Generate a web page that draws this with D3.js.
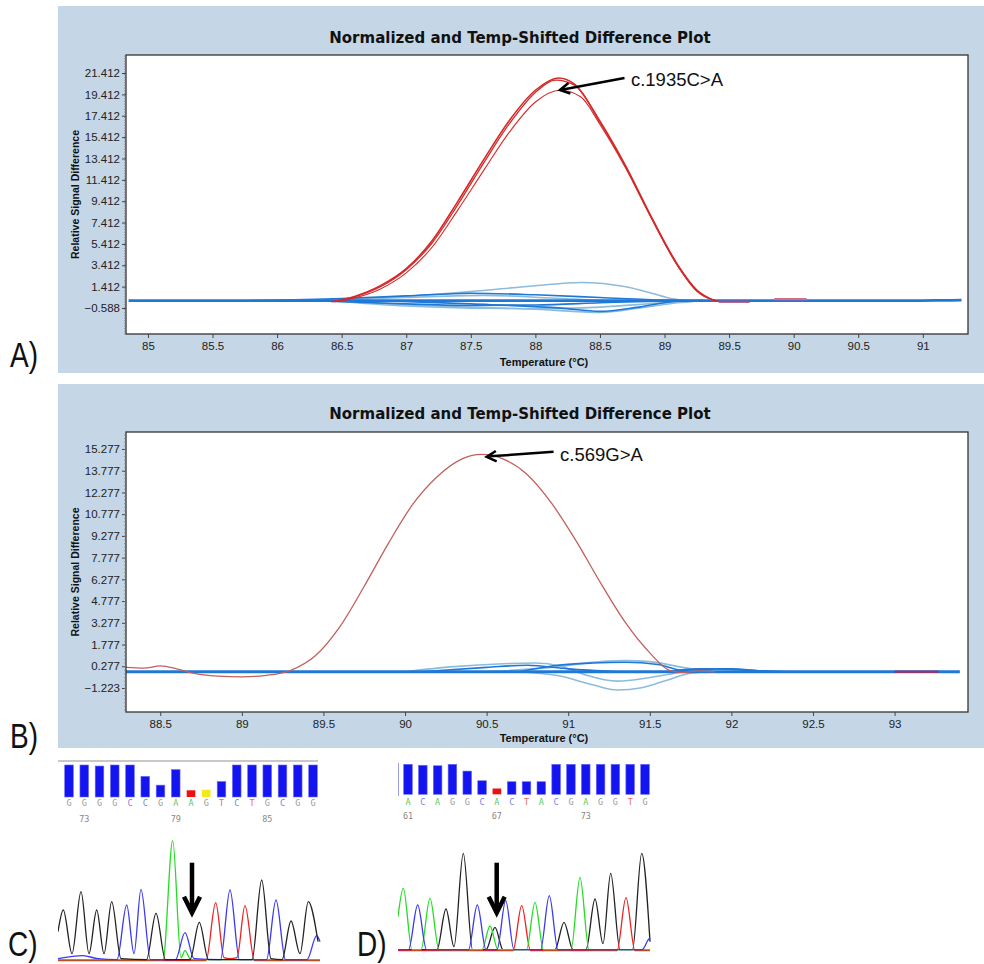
<!DOCTYPE html>
<html><head><meta charset="utf-8">
<script src="https://cdn.jsdelivr.net/npm/d3@7/dist/d3.min.js"></script>
<style>body{margin:0;background:#fff} svg{display:block}</style>
</head><body><svg id="c" width="984" height="964"></svg>
<script>
// ---------------- DATA ----------------
const titleText = "Normalized and Temp-Shifted Difference Plot";
const yLabelText = "Relative Signal Difference";
const xLabelText = "Temperature (°C)";

// Panel A ticks
const meltA_xTicks = [85, 85.5, 86, 86.5, 87, 87.5, 88, 88.5, 89, 89.5, 90, 90.5, 91];
const meltA_yTicks = [-0.588, 1.412, 3.412, 5.412, 7.412, 9.412, 11.412, 13.412, 15.412, 17.412, 19.412, 21.412];
// Panel B ticks
const meltB_xTicks = [88.5, 89, 89.5, 90, 90.5, 91, 91.5, 92, 92.5, 93];
const meltB_yTicks = [-1.223, 0.277, 1.777, 3.277, 4.777, 6.277, 7.777, 9.277, 10.777, 12.277, 13.777, 15.277];

// Panel A curves [temperature, difference]
const redA1 = [[86.42,0],[86.6,0.5],[86.8,1.5],[87.0,3.1],[87.2,5.7],[87.4,9.4],[87.6,13.3],[87.8,17.0],[88.0,19.8],[88.18,20.95],[88.3,20.4],[88.5,16.9],[88.7,12.7],[88.9,7.9],[89.1,3.5],[89.25,1.1],[89.4,0.05]];
const redA2 = [[86.44,0],[86.6,0.45],[86.8,1.4],[87.0,3.0],[87.2,5.5],[87.4,9.1],[87.6,13.0],[87.8,16.7],[88.0,19.6],[88.16,20.75],[88.3,20.3],[88.5,16.8],[88.7,12.6],[88.9,7.8],[89.1,3.4],[89.25,1.0],[89.4,0.05]];
const redA3 = [[86.47,0],[86.6,0.35],[86.8,1.2],[87.0,2.7],[87.2,5.1],[87.4,8.6],[87.6,12.3],[87.8,15.9],[88.0,18.7],[88.19,19.8],[88.35,19.2],[88.5,16.6],[88.7,12.5],[88.9,7.8],[89.1,3.4],[89.25,1.0],[89.42,0.05]];
const redA_tail1 = [[89.42,0.0],[89.66,0.0]];
const redA_tail2 = [[89.85,0.25],[90.1,0.25]];
const blueA_flat = [[84.85,0.1],[85.5,0.1],[86.0,0.1],[86.5,0.1],[87.0,0.1],[88.0,0.1],[89.0,0.1],[90.0,0.1],[90.8,0.1],[91.1,0.12],[91.3,0.15]];
const blueA_light1 = [[86.0,0.1],[86.5,0.2],[87.0,0.5],[87.5,0.95],[88.0,1.5],[88.35,1.8],[88.7,1.4],[88.9,0.8],[89.05,0.3],[89.2,0.1]];
const blueA_dark1 = [[85.8,0.1],[86.5,0.3],[87.0,0.55],[87.5,0.8],[88.0,0.65],[88.5,0.4],[89.0,0.15],[89.3,0.1]];
const blueA_light2 = [[86.2,0.1],[87.0,0.4],[87.6,0.6],[88.2,0.3],[88.8,0.0],[89.3,0.1]];
const blueA_dark2 = [[86.3,0.1],[87.0,-0.2],[87.5,-0.35],[88.0,-0.3],[88.5,-0.1],[89.0,0.1]];
const blueA_light3 = [[86.4,0.1],[87.0,-0.4],[87.5,-0.6],[88.0,-0.65],[88.5,-0.5],[89.0,-0.1],[89.3,0.1]];
const blueA_light4 = [[86.5,0.1],[87.0,-0.3],[87.5,-0.5],[88.0,-0.7],[88.5,-1.0],[88.8,-0.6],[89.1,-0.1],[89.3,0.1]];
const blueA_dark3 = [[86.8,0.1],[87.5,-0.2],[88.2,-0.6],[88.5,-0.9],[88.8,-0.5],[89.1,0.05],[89.3,0.1]];

// Panel B curves
const redB1 = [[88.29,0.2],[88.4,0.15],[88.5,0.3],[88.6,0.1],[88.7,-0.2],[88.85,-0.4],[89.0,-0.45],[89.15,-0.35],[89.3,0],[89.45,1.0],[89.6,3.0],[89.75,5.8],[89.9,8.8],[90.05,11.5],[90.2,13.4],[90.35,14.6],[90.47,14.9],[90.6,14.6],[90.75,13.5],[90.9,11.5],[91.05,8.9],[91.2,6.0],[91.35,3.3],[91.5,1.2],[91.62,0],[91.7,-0.15],[91.8,-0.05],[91.9,-0.1]];
const redB_tail = [[93.0,-0.1],[93.27,-0.1]];
const blueB_flat = [[88.29,-0.1],[89.0,-0.1],[90.0,-0.1],[91.0,-0.1],[92.0,-0.1],[93.0,-0.1],[93.4,-0.1]];
const blueB_light1 = [[90.0,-0.1],[90.3,0.25],[90.6,0.45],[90.8,0.5],[90.95,0.3],[91.1,-0.3],[91.3,-0.75],[91.5,-0.5],[91.7,-0.1]];
const blueB_light2 = [[90.5,-0.1],[90.9,0.2],[91.2,0.6],[91.35,0.67],[91.5,0.6],[91.7,0.2],[91.9,-0.1]];
const blueB_dark1 = [[90.7,-0.1],[90.9,0.3],[91.15,0.5],[91.35,0.55],[91.55,0.4],[91.7,0.0],[91.9,0.1],[92.1,0.0],[92.3,-0.1]];
const blueB_light3 = [[90.7,-0.1],[90.95,-0.4],[91.15,-1.0],[91.3,-1.36],[91.45,-1.2],[91.6,-0.7],[91.75,-0.2],[91.9,-0.1]];
const blueB_dark2 = [[90.1,-0.1],[90.5,0.2],[90.75,0.35],[91.0,0.1],[91.3,-0.1]];
const blueB_dark3 = [[91.6,-0.1],[91.8,0.1],[92.0,0.1],[92.2,-0.05],[92.4,-0.1]];

// Annotations
const annA = {label: "c.1935C>A", tx: 88.74, tv: 20.76, sx: 88.69, sv: 20.95, ex: 88.19, ev: 19.82};
const annB = {label: "c.569G>A", tx: 90.95, tv: 14.87, sx: 90.91, sv: 15.08, ex: 90.50, ev: 14.73};

// Sequencing panels: base calls, quality values, position labels
const basesC = ["G","G","G","G","C","C","G","A","A","G","T","C","T","G","C","G","G"];
const qualC = [62,62,60,62,62,40,23,53,13,14,30,62,62,62,62,62,62];
const qualColorC = ["b","b","b","b","b","b","b","b","r","y","b","b","b","b","b","b","b"];
const numLabelsC = [[1,"73"],[7,"79"],[13,"85"]];
const basesD = ["A","C","A","G","G","C","A","C","T","A","C","G","A","G","G","T","G"];
const qualD = [62,60,59,62,48,28,12,26,26,26,62,62,62,62,62,62,62];
const qualColorD = ["b","b","b","b","b","b","r","b","b","b","b","b","b","b","b","b","b"];
const numLabelsD = [[0,"61"],[6,"67"],[12,"73"]];

// Chromatogram traces [scan position, signal]
const chromC_black = [[0,30],[5.3,51.7],[14,8],[23,70],[31,8],[38.7,51.7],[46,8],[53.7,60],[63,3],[88.5,2],[98,48.4],[107.5,2],[132,2],[141.3,39.4],[150.5,2],[194,2],[203.7,81.7],[213,3],[224,2],[233,40.7],[242,8],[250.3,60],[260,20]];
const chromC_blue = [[0,3],[25,6],[40,3],[59,2],[68.7,56.7],[76,8],[83,72.4],[92.5,2],[117.5,2],[127,29],[136,3],[162.5,2],[172,71.7],[181.5,2],[208.5,2],[218,61.7],[227.5,2],[249,2],[258.7,26],[262,20]];
const chromC_green = [[0,2],[105,2],[114.7,121],[123,4],[127,11],[133,2],[262,2]];
const chromC_red = [[0,1],[148,1],[157.7,59],[166,4],[172,3],[179,4],[187,56],[196.5,1],[262,1]];
const arrowC = {pos: 134, from: 99, to: 49};

const chromD_black = [[0,2],[39,2],[48,42.7],[56,5],[65.3,98.4],[74.5,2],[88,2],[97,24.4],[105,2],[157,2],[166,29.4],[175,2],[188,2],[197,52.7],[205,8],[212.7,78.4],[222,2],[234.5,2],[243.7,98.4],[252,10]];
const chromD_blue = [[0,2],[10.5,2],[19.7,46.7],[28.5,2],[70.5,2],[79.3,46.7],[88,2],[99,2],[107.7,51],[116,2],[142.5,2],[151.3,56],[160,2],[244,2],[250.3,12],[252,14]];
const chromD_green = [[0,35],[5.3,63.4],[14,2],[23,2],[32,53.4],[41,2],[84,2],[92,25.7],[100,2],[128.5,2],[137,49.4],[145.5,2],[173,2],[182,74.4],[191,2],[252,2]];
const chromD_red = [[0,1],[115,1],[123.7,46],[132.5,1],[219,1],[228,54],[237,1],[252,1]];
const arrowD = {pos: 98.7, from: 89, to: 39};

// ---------------- STYLE ----------------
const BG = "#c5d7e7";
const RED_A = "#d42a2a", RED_B = "#c2605c", TAIL = "#b04a7e";
const DBLUE = "#1f78d6", LBLUE = "#8bbcdd";
const baseColor = {G:"#9a9a9a", C:"#8080e8", A:"#5ccc5c", T:"#ee6a6a"};
const qColor = {b:"#1414f0", r:"#ee1111", y:"#f4e81c"};
const traceCol = {black:"#222", blue:"#3a3af0", green:"#22dd22", red:"#ee2020"};
const tickFont = "'Liberation Sans', Arial, sans-serif";

const svg = d3.select("#c");
svg.append("rect").attr("width",984).attr("height",964).attr("fill","#fff");

function panelLetter(x, y, t) {
  svg.append("text").attr("transform",`translate(${x},${y}) scale(0.8,1)`)
    .attr("font-family","'Liberation Sans', Arial, sans-serif").attr("font-size",35).attr("fill","#111").text(t);
}

function drawMelt(o) {
  const g = svg.append("g");
  g.append("rect").attr("x",58).attr("y",o.bgTop).attr("width",926).attr("height",o.bgH).attr("fill",BG);
  const x = d3.scaleLinear().domain(o.xDomain).range([126, 968]);
  const y = d3.scaleLinear().domain(o.yDomain).range([o.bottom, o.top]);
  g.append("rect").attr("x",126).attr("y",o.top).attr("width",842).attr("height",o.bottom-o.top).attr("fill","#fff");
  const cid = "clip"+o.id;
  g.append("clipPath").attr("id",cid).append("rect").attr("x",126).attr("y",o.top).attr("width",842).attr("height",o.bottom-o.top);
  const pg = g.append("g").attr("clip-path",`url(#${cid})`);
  const line = d3.line().x(d=>x(d[0])).y(d=>y(d[1])).curve(d3.curveMonotoneX);
  o.series.forEach(s => {
    pg.append("path").attr("d", line(s.data)).attr("fill","none")
      .attr("stroke", s.color).attr("stroke-width", s.w).attr("stroke-linejoin","round");
  });
  g.append("rect").attr("x",126).attr("y",o.top).attr("width",842).attr("height",o.bottom-o.top)
    .attr("fill","none").attr("stroke","#333").attr("stroke-width",1.3);
  g.append("text").attr("x",520).attr("y",o.titleY).attr("text-anchor","middle")
    .attr("font-family","'DejaVu Sans', Verdana, sans-serif").attr("font-weight","bold").attr("font-size",15)
    .attr("fill","#111").text(titleText);
  const ya = g.append("g").attr("transform","translate(126,0)")
    .call(d3.axisLeft(y).tickValues(o.yTicks).tickSize(4).tickPadding(2).tickFormat(d3.format(".3f")));
  ya.select(".domain").remove();
  ya.selectAll("text").attr("font-family",tickFont).attr("font-size",11.5).attr("fill","#222");
  ya.selectAll("line").attr("stroke","#444");
  const minor = d3.range(Math.ceil(o.yDomain[0]/o.minorStep)*o.minorStep, o.yDomain[1], o.minorStep);
  g.append("g").selectAll("line").data(minor).join("line")
    .attr("x1",124).attr("x2",126).attr("y1",d=>y(d)).attr("y2",d=>y(d)).attr("stroke","#777").attr("stroke-width",0.7);
  const xa = g.append("g").attr("transform",`translate(0,${o.bottom})`)
    .call(d3.axisBottom(x).tickValues(o.xTicks).tickSize(4).tickPadding(4).tickFormat(d=>String(d)));
  xa.select(".domain").remove();
  xa.selectAll("text").attr("font-family",tickFont).attr("font-size",11.5).attr("fill","#222");
  xa.selectAll("line").attr("stroke","#444");
  g.append("text").attr("transform",`translate(79,${(o.top+o.bottom)/2}) rotate(-90)`).attr("text-anchor","middle")
    .attr("font-family",tickFont).attr("font-weight","bold").attr("font-size",10.5).attr("fill","#111").text(yLabelText);
  g.append("text").attr("x",544).attr("y",o.xLabelY).attr("text-anchor","middle")
    .attr("font-family",tickFont).attr("font-weight","bold").attr("font-size",11).attr("fill","#111").text(xLabelText);
  const a = o.ann;
  const sx = x(a.sx), sy = y(a.sv), ex = x(a.ex), ey = y(a.ev);
  g.append("line").attr("x1",sx).attr("y1",sy).attr("x2",ex+3).attr("y2",ey-0.6).attr("stroke","#000").attr("stroke-width",2.5);
  const ang = Math.atan2(sy-ey, sx-ex), hl = 11, hw = 0.5;
  const p1 = [ex + hl*Math.cos(ang-hw), ey + hl*Math.sin(ang-hw)];
  const p2 = [ex + hl*Math.cos(ang+hw), ey + hl*Math.sin(ang+hw)];
  g.append("path").attr("d",`M${p1}L${ex},${ey}L${p2}`).attr("fill","none").attr("stroke","#000").attr("stroke-width",2.5);
  g.append("text").attr("x",x(a.tx)).attr("y",y(a.tv)+6.5).attr("font-family",tickFont).attr("font-size",18.5)
    .attr("fill","#111").text(a.label);
  panelLetter(10, o.letterY, o.letter);
}

drawMelt({id:"A", bgTop:6, bgH:367, top:55, bottom:334, titleY:43, xLabelY:366, letterY:367, letter:"A)",
  xDomain:[84.83, 91.35], yDomain:[-3.02, 23.1], xTicks:meltA_xTicks, yTicks:meltA_yTicks, minorStep:0.25, ann:annA,
  series:[
    {data:blueA_light1,color:LBLUE,w:1.6},{data:blueA_light2,color:LBLUE,w:1.6},{data:blueA_light3,color:LBLUE,w:1.6},{data:blueA_light4,color:LBLUE,w:1.6},
    {data:blueA_dark1,color:DBLUE,w:1.6},{data:blueA_dark2,color:DBLUE,w:1.6},{data:blueA_dark3,color:DBLUE,w:1.6},
    {data:blueA_flat,color:DBLUE,w:2.8},
    {data:redA3,color:RED_A,w:1.1},{data:redA2,color:RED_A,w:1.3},{data:redA1,color:RED_A,w:1.6},
    {data:redA_tail1,color:TAIL,w:2.2},{data:redA_tail2,color:"#d86a8a",w:2.2}
  ]});

drawMelt({id:"B", bgTop:384, bgH:364, top:432, bottom:712, titleY:419, xLabelY:742, letterY:748, letter:"B)",
  xDomain:[88.29, 93.45], yDomain:[-2.88, 16.45], xTicks:meltB_xTicks, yTicks:meltB_yTicks, minorStep:0.25, ann:annB,
  series:[
    {data:blueB_light1,color:LBLUE,w:1.6},{data:blueB_light2,color:LBLUE,w:1.6},{data:blueB_light3,color:LBLUE,w:1.6},
    {data:blueB_dark1,color:DBLUE,w:1.6},{data:blueB_dark2,color:DBLUE,w:1.6},{data:blueB_dark3,color:DBLUE,w:1.6},
    {data:blueB_flat,color:DBLUE,w:2.8},
    {data:redB1,color:RED_B,w:1.3},{data:redB_tail,color:"#8a3a70",w:2.5}
  ]});

// ---------------- Sequencing panels ----------------
function drawSeq(o) {
  const g = svg.append("g");
  const cid = "clipS"+o.id;
  g.append("clipPath").attr("id",cid).append("rect").attr("x",o.x0).attr("y",755).attr("width",o.x1-o.x0+4).attr("height",209);
  const cg = g.append("g").attr("clip-path",`url(#${cid})`);
  if (o.topLine) cg.append("line").attr("x1",o.x0).attr("x2",o.x1).attr("y1",761).attr("y2",761).attr("stroke","#c8c8c8").attr("stroke-width",2);
  if (o.leftLine) cg.append("line").attr("x1",o.x0+0.5).attr("x2",o.x0+0.5).attr("y1",763).attr("y2",796).attr("stroke","#9aa0e8").attr("stroke-width",1);
  const idx = d3.range(o.bases.length);
  const px = d3.scalePoint().domain(idx).range(o.barRange);
  const qh = d3.scaleLinear().domain([0,62]).range([0,o.barH]);
  cg.selectAll(".bar").data(idx).join("rect")
    .attr("x",i=>px(i)-4.3).attr("width",8.6)
    .attr("y",i=>o.barBottom-qh(o.qual[i])).attr("height",i=>qh(o.qual[i]))
    .attr("fill",i=>qColor[o.qcol[i]]).attr("stroke",i=>o.qcol[i]==="b"?"#6a6af8":"none").attr("stroke-width",0.6);
  cg.selectAll(".base").data(idx).join("text")
    .attr("x",i=>px(i)).attr("y",o.baseY).attr("text-anchor","middle")
    .attr("font-family","'DejaVu Sans Mono', monospace").attr("font-size",8.5).attr("fill",i=>baseColor[o.bases[i]])
    .text(i=>o.bases[i]);
  cg.selectAll(".num").data(o.nums).join("text")
    .attr("x",d=>px(d[0])).attr("y",o.numY).attr("text-anchor","middle")
    .attr("font-family","'DejaVu Sans Mono', monospace").attr("font-size",8.5).attr("fill","#888").text(d=>d[1]);
  const sx = d3.scaleLinear().domain(o.scanDomain).range([o.x0, o.x1]);
  const sy = d3.scaleLinear().domain([0,100]).range([o.base, o.base-100]);
  const line = d3.line().x(d=>sx(d[0])).y(d=>sy(d[1])).curve(d3.curveMonotoneX);
  o.traces.forEach(t => {
    cg.append("path").attr("d",line(t.data)).attr("fill","none").attr("stroke",traceCol[t.c]).attr("stroke-width",1.3);
  });
  const ax = sx(o.arrow.pos), y1 = sy(o.arrow.from), y2 = sy(o.arrow.to);
  g.append("line").attr("x1",ax).attr("x2",ax).attr("y1",y1).attr("y2",y2-2).attr("stroke","#000").attr("stroke-width",4.5);
  g.append("path").attr("d",`M${ax-8},${y2-16}L${ax},${y2}L${ax+8},${y2-16}`).attr("fill","none")
    .attr("stroke","#000").attr("stroke-width",4.5).attr("stroke-linejoin","miter");
  panelLetter(o.letterX, 956, o.letter);
}

drawSeq({id:"C", x0:58, x1:318, topLine:true, leftLine:false, bases:basesC, qual:qualC, qcol:qualColorC, nums:numLabelsC,
  barRange:[69,313], barBottom:797, barH:32, baseY:806, numY:822, scanDomain:[0,260], base:961.7,
  traces:[{data:chromC_red,c:"red"},{data:chromC_green,c:"green"},{data:chromC_blue,c:"blue"},{data:chromC_black,c:"black"}],
  arrow:arrowC, letter:"C)", letterX:8});
drawSeq({id:"D", x0:398, x1:650, topLine:false, leftLine:true, bases:basesD, qual:qualD, qcol:qualColorD, nums:numLabelsD,
  barRange:[408,645], barBottom:794.3, barH:30, baseY:805, numY:819, scanDomain:[0,252], base:951.7,
  traces:[{data:chromD_black,c:"black"},{data:chromD_red,c:"red"},{data:chromD_green,c:"green"},{data:chromD_blue,c:"blue"}],
  arrow:arrowD, letter:"D)", letterX:357});
</script></body></html>
